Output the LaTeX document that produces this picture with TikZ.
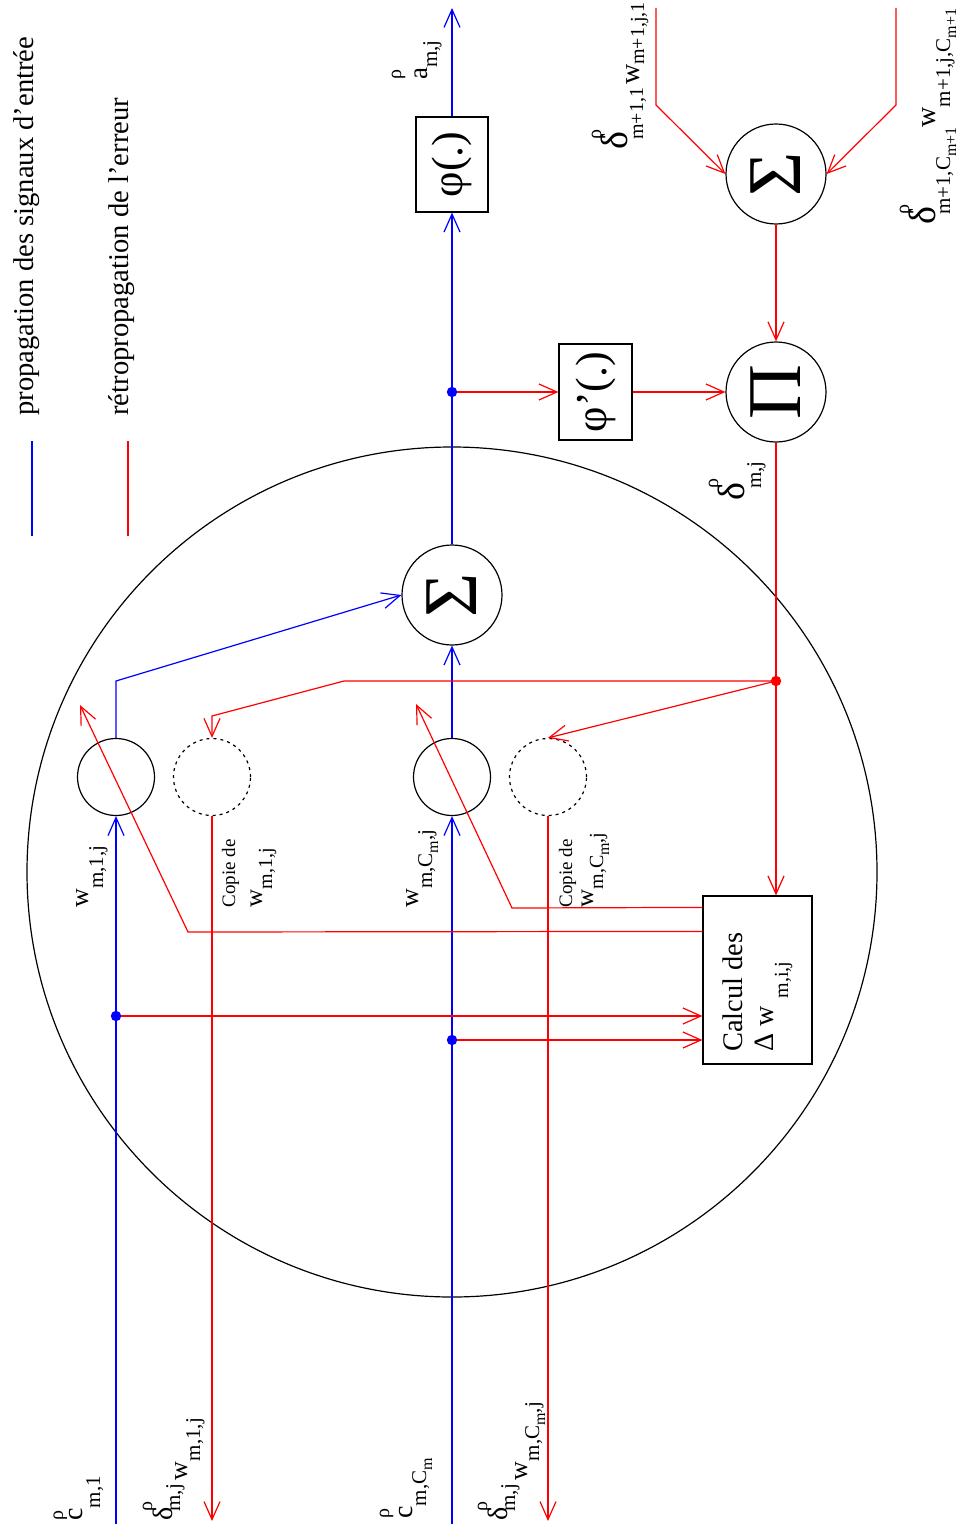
\documentclass[tikz,border=0pt]{standalone}
\usepackage{fontspec}
\setmainfont{Liberation Serif}
\usepackage{graphicx}
\usetikzlibrary{arrows.meta,calc}
\newcommand{\Fz}[2]{{\fontsize{#1}{#1}\selectfont #2}}
\newcommand{\Rz}[2]{\raisebox{#1}{#2}}
\begin{document}
\begin{tikzpicture}[x=0.5pt,y=-0.5pt,
  ln/.style={line width=0.6pt},
  bl/.style={ln,draw=blue},
  rd/.style={ln,draw=red},
  arr/.style={-{Straight Barb[length=9pt,width=8pt]}},
  lbl/.style={rotate=90,anchor=base west,inner sep=0pt},
  ring/.style={circle,draw,line width=0.6pt,inner sep=0pt,minimum size=38.5pt},
  dring/.style={ring,dash pattern=on 1.5pt off 2pt},
  sumc/.style={circle,draw,line width=0.6pt,inner sep=0pt,minimum size=50pt,font=\fontsize{38}{38}\selectfont},
  box/.style={draw,line width=0.6pt,inner sep=0pt}]
\path[use as bounding box] (0,0) rectangle (961,1524);
% big circle
\draw[line width=0.6pt] (452,872) circle[radius=212.5pt];
% legend
\node[lbl] at (33,416) {\Fz{14.3}{propagation des signaux d'entrée}};
\node[lbl] at (128,416) {\Fz{14.3}{rétropropagation de l'erreur}};
\draw[bl] (32,441) -- (32,536);
\draw[rd] (128,441) -- (128,536);
% blocks
\node[box,minimum width=36pt,minimum height=47.5pt] (phi) at (452,164.5) {\rotatebox{90}{\Fz{22}{φ(.)}}};
\node[box,minimum width=36.5pt,minimum height=48pt] (dphi) at (595.5,392) {\rotatebox{90}{\Fz{22}{φ'(.)}}};
\node[box,minimum width=54.5pt,minimum height=84pt] (calc) at (757.5,980) {};
\node[sumc] (sig) at (452,595) {\rotatebox{90}{Σ}};
\node[sumc] (sig2) at (776,174) {\rotatebox{90}{Σ}};
\node[sumc] (pi) at (776,392) {\rotatebox{90}{Π}};
\node[ring] (w1) at (116,777) {};
\node[dring] (c1) at (212,777) {};
\node[ring] (w2) at (452,777) {};
\node[dring] (c2) at (548,777) {};
% coordinates
\coordinate (aout) at (452,8);
\coordinate (in1) at (116,1524);
\coordinate (in2) at (452,1524);
\coordinate (out1) at (212,1521);
\coordinate (out2) at (548,1521);
\coordinate (bd1) at (116,1016);
\coordinate (bd2) at (452,1040);
\coordinate (bd3) at (452,392);
\coordinate (rdot) at (776,681);
\coordinate (t1) at (656,8);
\coordinate (t2) at (896,8);
% blue connectors
\draw[bl,arr] (phi.north) -- (aout);
\draw[bl,arr] (sig.north) -- (phi.south);
\draw[bl,arr] (in1) -- (w1.south);
\draw[bl,arr] (in2) -- (w2.south);
\draw[bl,arr] (w1.north) -- (116,681) -- (sig.west);
\draw[bl,arr] (w2.north) -- (sig.south);
% red connectors
\draw[rd,arr] (bd3) -- (dphi.west);
\draw[rd,arr] (dphi.east) -- (pi.west);
\draw[rd,arr] (t1) -- (656,105) -- (sig2.west);
\draw[rd,arr] (t2) -- (896,105) -- (sig2.east);
\draw[rd,arr] (sig2.south) -- (pi.north);
\draw[rd,arr] (pi.south) -- (pi.south |- calc.north);
\draw[rd,arr] (rdot) -- (344,681) -- (212,716) -- (c1.north);
\draw[rd,arr] (rdot) -- (c2.north);
\draw[rd,arr] ($(calc.north west)+(0,36)$) -- (188,932) -- (80,705);
\draw[rd,arr] ($(calc.north west)+(0,12)$) -- (512,908) -- (416,704);
\draw[rd,arr] (bd1) -- (bd1 -| calc.west);
\draw[rd,arr] (bd2) -- (bd2 -| calc.west);
\draw[rd,arr] (c1.south) -- (out1);
\draw[rd,arr] (c2.south) -- (out2);
% dots
\fill[blue] (bd1) circle[radius=2.6pt];
\fill[blue] (bd2) circle[radius=2.6pt];
\fill[blue] (bd3) circle[radius=2.6pt];
\fill[red] (rdot) circle[radius=2.6pt];
% labels
\node[lbl] at (742,1052) {\Fz{14.2}{Calcul des}};
\node[lbl] at (773,1052) {\Fz{14}{Δ w}\hspace{4pt}\Rz{-7.5pt}{\Fz{10}{m,i,j}}};
\node[lbl] at (427,80) {\rlap{\Rz{13pt}{\Fz{10}{ρ}}}\Fz{13.5}{a}\Rz{-5pt}{\Fz{10.5}{m,j}}};
\node[lbl] at (627,150) {\Fz{19}{δ}\kern-4pt\rlap{\Rz{13pt}{\Fz{10}{ρ}}}\Rz{-8pt}{\Fz{10}{m+1,1}}\hspace{1.5pt}\Rz{-6pt}{\Fz{14}{w}}\Rz{-8.5pt}{\Fz{10}{m+1,j,1}}};
\node[lbl] at (935,225) {\Fz{19}{δ}\kern-4pt\rlap{\Rz{13pt}{\Fz{10}{ρ}}}\Rz{-7.5pt}{\Fz{10.5}{m+1,C\Rz{-3pt}{\Fz{8}{m+1}}}}\Fz{14}{w}\Rz{-7.5pt}{\Fz{10.5}{m+1,j,C\Rz{-3pt}{\Fz{8}{m+1}}}}};
\node[lbl] at (744,501) {\Fz{19}{δ}\kern-3pt\rlap{\Rz{13pt}{\Fz{10}{ρ}}}\Rz{-8.5pt}{\Fz{10.5}{m,j}}};
\node[lbl] at (88,908) {\Fz{13}{w}\Rz{-7.5pt}{\Fz{10.5}{m,1,j}}};
\node[lbl] at (235,908) {\Fz{9.5}{Copie de}};
\node[lbl] at (262,908) {\Fz{12.5}{w}\Rz{-5pt}{\Fz{10}{m,1,j}}};
\node[lbl] at (418,908) {\Fz{13}{w}\Rz{-7pt}{\Fz{10.5}{m,C\Rz{-3pt}{\Fz{8}{m}},j}}};
\node[lbl] at (572,908) {\Fz{9.5}{Copie de}};
\node[lbl] at (593,908) {\Fz{12.5}{w}\Rz{-5pt}{\Fz{10}{m,C\Rz{-3pt}{\Fz{8}{m}},j}}};
\node[lbl] at (82,1521) {\rlap{\Rz{9.5pt}{\Fz{10}{ρ}}}\Fz{14}{c}\Rz{-9pt}{\Fz{10.5}{m,1}}};
\node[lbl] at (412,1519) {\rlap{\Rz{11.5pt}{\Fz{10}{ρ}}}\Fz{14}{c}\Rz{-7pt}{\Fz{10.5}{m,C\Rz{-3pt}{\Fz{8}{m}}}}};
\node[lbl] at (172,1521) {\Fz{14}{δ}\kern-2pt\rlap{\Rz{10pt}{\Fz{10}{ρ}}}\Rz{-4pt}{\Fz{10.5}{m,j}}\hspace{2pt}\Rz{-7.5pt}{\Fz{13}{w}}\Rz{-14pt}{\Fz{10.5}{m,1,j}}};
\node[lbl] at (507,1521) {\Fz{14}{δ}\kern-2pt\rlap{\Rz{10pt}{\Fz{10}{ρ}}}\Rz{-4pt}{\Fz{10.5}{m,j}}\hspace{2pt}\Rz{-10pt}{\Fz{13}{w}}\Rz{-16pt}{\Fz{10.5}{m,C\Rz{-3pt}{\Fz{8}{m}},j}}};
\end{tikzpicture}
\end{document}
